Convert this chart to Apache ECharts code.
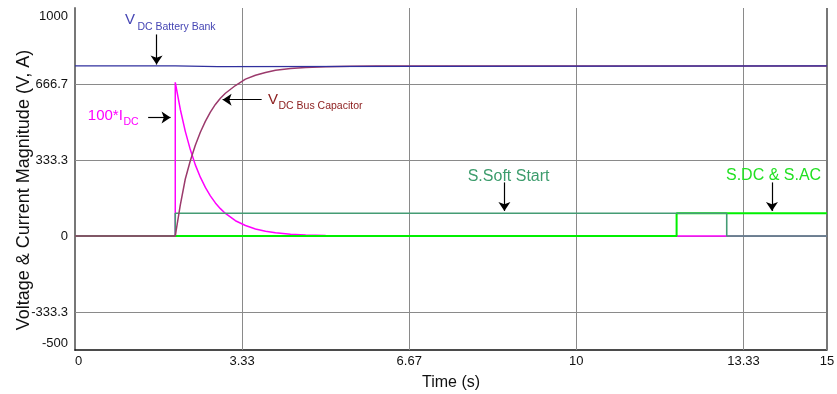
<!DOCTYPE html>
<html>
<head>
<meta charset="utf-8">
<script src="https://cdn.jsdelivr.net/npm/echarts@6.0.0/dist/echarts.min.js"></script>
<style>
  html, body { margin: 0; padding: 0; background: #ffffff; }
  #chart { width: 837px; height: 394px; }
</style>
</head>
<body>
<div id="chart"></div>
<script>
// Axis ticks and labels
const xTickValues = [0, 10 / 3, 20 / 3, 10, 40 / 3, 15];
const xTickLabels = ['0', '3.33', '6.67', '10', '13.33', '15'];
const yTickValues = [-500, -1000 / 3, 0, 1000 / 3, 2000 / 3, 1000];
const yTickLabels = ['-500', '-333.3', '0', '333.3', '666.7', '1000'];
const xGridLines = [10 / 3, 20 / 3, 10, 40 / 3];
const yGridLines = [-1000 / 3, 0, 1000 / 3, 2000 / 3];

// V_DC of the battery bank (V)
const tBattery = [0, 2.0, 2.0, 2.85, 2.85, 15];
const vBattery = [746, 746, 743, 743, 746, 746];

// V_DC across the bus capacitor (V)
const tBus = [0, 2.0, 2.1, 2.2, 2.3, 2.4, 2.5, 2.6, 2.7, 2.8, 2.9, 3.0, 3.2, 3.4, 3.6, 3.8, 4.0, 4.3, 4.6, 5.0, 5.5, 6.0, 15];
const vBus = [0, 0, 135, 250, 330, 398, 455, 503, 543, 577, 604, 626, 660, 688, 705, 717, 727, 735, 739, 742, 744, 746, 746];

// DC current, scaled by 100
const tIdc = [0, 2.0, 2.0, 2.1, 2.2, 2.3, 2.4, 2.5, 2.6, 2.7, 2.8, 2.9, 3.0, 3.2, 3.4, 3.6, 3.8, 4.0, 4.3, 4.6, 5.0, 5.5, 15];
const vIdc = [0, 0, 674, 556, 459, 379, 312, 258, 213, 176, 145, 120, 99, 67, 46, 31, 21, 14, 8, 4, 2, 0, 0];

// Soft-start switch signal
const tSoft = [0, 2.0, 2.0, 13.0, 13.0, 15];
const vSoft = [0, 0, 100, 100, 0, 0];

// DC and AC switch signals
const tSwitch = [0, 12.0, 12.0, 15];
const vSwitch = [0, 0, 100, 100];

// Annotation texts: [time, value, text, size, colour, placement]
const noteTexts = [
  [0.994, 950, 'V', 15, '#4646b4', 'right'],
  [1.244, 918, 'DC Battery Bank', 10.5, '#4646b4', 'right'],
  [3.848, 598, 'V', 15, '#8b1c1c', 'right'],
  [4.058, 569, 'DC Bus Capacitor', 10.5, '#8b1c1c', 'right'],
  [0.255, 527, '100*I', 15, '#ff00ff', 'right'],
  [0.964, 499, 'DC', 10.5, '#ff00ff', 'right'],
  [8.649, 261, 'S.Soft Start', 16, '#3c9c6c', 'inside'],
  [13.934, 264, 'S.DC & S.AC', 16, '#22e022', 'inside']
];

// Annotation arrows: [fromTime, fromValue, toTime, toValue]
const noteArrows = [
  [1.627, 884, 1.627, 752],
  [3.723, 598, 2.944, 598],
  [1.459, 520, 1.906, 520],
  [8.565, 235, 8.565, 110],
  [13.902, 235, 13.902, 110]
];

function zip(ts, vs) { return ts.map((t, i) => [t, vs[i]]); }
function pickLabel(values, labels, v, tol) {
  for (let i = 0; i < values.length; i++) {
    if (Math.abs(v - values[i]) < tol) return labels[i];
  }
  return '';
}

const chart = echarts.init(document.getElementById('chart'), null, { renderer: 'canvas' });
const FONT = '"Liberation Sans", Arial, sans-serif';

function lineSeries(name, ts, vs, color, width, z) {
  return {
    name, type: 'line', data: zip(ts, vs), z,
    showSymbol: false, symbol: 'none', smooth: false,
    lineStyle: { color, width }, itemStyle: { color },
    emphasis: { disabled: true }, silent: true
  };
}

chart.setOption({
  animation: false,
  backgroundColor: '#ffffff',
  grid: { left: 75, right: 10, top: 8, bottom: 44, containLabel: false, outerBoundsMode: 'none' },
  textStyle: { fontFamily: FONT },
  xAxis: {
    type: 'value', min: 0, max: 15, interval: 10 / 3,
    name: 'Time (s)', nameLocation: 'middle', nameGap: 25, nameMoveOverlap: false,
    nameTextStyle: { fontSize: 16, color: '#111', fontFamily: FONT },
    axisLine: { show: true, onZero: false, lineStyle: { color: '#111', width: 1.5 } },
    axisTick: { show: false },
    splitLine: { show: false },
    axisLabel: {
      fontSize: 13, color: '#111', margin: 5, fontFamily: FONT,
      formatter: v => {
        const s = pickLabel(xTickValues, xTickLabels, v, 0.01);
        return s === '0' ? '{first|0}' : s;
      },
      rich: { first: { padding: [0, 0, 0, 7] } }
    }
  },
  yAxis: {
    type: 'value', min: -500, max: 1000, interval: 500 / 3,
    name: 'Voltage & Current Magnitude (V, A)', nameLocation: 'middle', nameGap: 42, nameMoveOverlap: false,
    nameTextStyle: { fontSize: 18, color: '#111', fontFamily: FONT, padding: [0, 22, 0, 0] },
    axisLine: { show: true, onZero: false, lineStyle: { color: '#777', width: 2 } },
    axisTick: { show: false },
    splitLine: { show: false },
    axisLabel: {
      fontSize: 13, color: '#111', margin: 7, fontFamily: FONT,
      formatter: v => {
        const s = pickLabel(yTickValues, yTickLabels, v, 1);
        if (s === '1000') return '{top|1000}';
        if (s === '-500') return '{bot|-500}';
        return s;
      },
      rich: { top: { padding: [16, 0, 0, 0] }, bot: { padding: [0, 0, 13, 0] } }
    }
  },
  series: [
    {
      name: 'grid', type: 'line', data: [], z: 1, silent: true,
      markLine: {
        z: 1,
        silent: true, symbol: 'none', animation: false,
        label: { show: false },
        lineStyle: { color: '#8a8a8a', width: 1, type: 'solid' },
        emphasis: { disabled: true },
        data: [
          ...yGridLines.map(v => ({ yAxis: v })),
          ...xGridLines.map(v => ({ xAxis: v })),
          { xAxis: 15, lineStyle: { color: '#777', width: 2, type: 'solid' } }
        ]
      }
    },
    lineSeries('100*I_DC', tIdc, vIdc, '#ff00ff', 1.5, 2),
    lineSeries('S.DC & S.AC', tSwitch, vSwitch, '#00f000', 2, 3),
    lineSeries('S.Soft Start', tSoft, vSoft, '#449c74', 1.6, 4),
    lineSeries('V_DC Bus Capacitor', tBus, vBus, '#9b3a6c', 1.5, 5),
    lineSeries('V_DC Battery Bank', tBattery, vBattery, '#30309e', 1.2, 6),
    {
      name: 'notes', type: 'line', data: [], z: 10, silent: true,
      markLine: {
        z: 10,
        silent: true, animation: false,
        symbol: ['none', 'arrow'], symbolSize: 9,
        label: { show: false },
        lineStyle: { color: '#000', width: 1.2, type: 'solid' },
        emphasis: { disabled: true },
        data: noteArrows.map(a => [{ coord: [a[0], a[1]] }, { coord: [a[2], a[3]] }])
      },
      markPoint: {
        z: 10,
        silent: true, animation: false,
        symbol: 'circle', symbolSize: 0.1,
        itemStyle: { color: 'transparent' },
        emphasis: { disabled: true },
        data: noteTexts.map(n => ({
          coord: [n[0], n[1]],
          label: {
            show: true, formatter: n[2], position: n[5], distance: 0,
            fontSize: n[3], color: n[4], fontFamily: FONT
          }
        }))
      }
    }
  ]
});
</script>
</body>
</html>
